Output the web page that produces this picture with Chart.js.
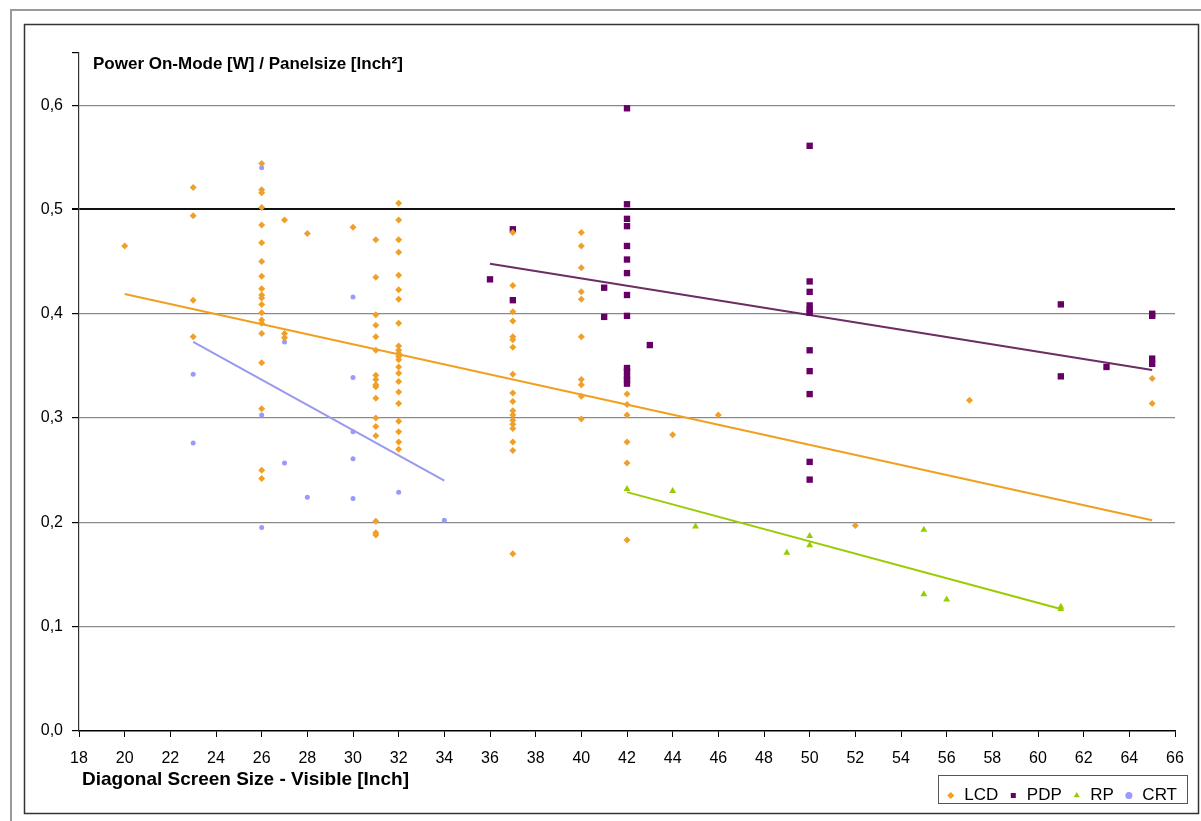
<!DOCTYPE html>
<html>
<head>
<meta charset="utf-8">
<script src="https://cdn.jsdelivr.net/npm/chart.js@4.4.1/dist/chart.umd.min.js"></script>
<style>
  html, body { margin: 0; padding: 0; background: #fff; }
</style>
</head>
<body>
<canvas id="scatter" width="1201" height="821"></canvas>
<script>
// screen sizes (inch) and the power/area values measured at each size
var lcdSizes = [20, 23, 26, 27, 28, 30, 31, 32, 37, 40, 42, 44, 46, 52, 57, 65];
var lcdValues = [
  [0.465],
  [0.521, 0.494, 0.413, 0.378],
  [0.544, 0.519, 0.516, 0.502, 0.485, 0.468, 0.450, 0.436, 0.424, 0.418, 0.415, 0.409, 0.401, 0.394, 0.391, 0.381, 0.353, 0.309, 0.250, 0.242],
  [0.490, 0.381, 0.377],
  [0.477],
  [0.483],
  [0.471, 0.435, 0.399, 0.389, 0.378, 0.365, 0.341, 0.337, 0.332, 0.330, 0.319, 0.300, 0.292, 0.283, 0.201, 0.190, 0.188],
  [0.506, 0.490, 0.471, 0.459, 0.437, 0.423, 0.414, 0.391, 0.369, 0.365, 0.362, 0.359, 0.356, 0.349, 0.343, 0.335, 0.325, 0.314, 0.297, 0.287, 0.277, 0.270],
  [0.478, 0.427, 0.402, 0.393, 0.378, 0.375, 0.368, 0.342, 0.324, 0.316, 0.307, 0.303, 0.298, 0.294, 0.290, 0.277, 0.269, 0.170],
  [0.478, 0.465, 0.444, 0.421, 0.414, 0.378, 0.337, 0.332, 0.321, 0.299],
  [0.323, 0.313, 0.303, 0.277, 0.257, 0.183],
  [0.284],
  [0.303],
  [0.197],
  [0.317],
  [0.338, 0.314]
];

var pdpSizes = [36, 37, 41, 42, 43, 50, 61, 63, 65];
var pdpValues = [
  [0.433],
  [0.481, 0.413],
  [0.425, 0.397],
  [0.597, 0.505, 0.491, 0.484, 0.465, 0.452, 0.439, 0.418, 0.398, 0.348, 0.345, 0.340, 0.337, 0.333],
  [0.370],
  [0.561, 0.431, 0.421, 0.408, 0.404, 0.401, 0.365, 0.345, 0.323, 0.258, 0.241],
  [0.409, 0.340],
  [0.349],
  [0.400, 0.398, 0.357, 0.352]
];

var rpSizes = [42, 44, 45, 49, 50, 55, 56, 61];
var rpValues = [[0.232], [0.230], [0.196], [0.171], [0.187, 0.178], [0.193, 0.131], [0.126], [0.119, 0.117]];

var crtSizes = [23, 26, 27, 28, 30, 32, 34];
var crtValues = [[0.342, 0.276], [0.540, 0.303, 0.195], [0.373, 0.257], [0.224], [0.416, 0.339, 0.287, 0.261, 0.223], [0.229], [0.202]];

// trend line end points
var lcdTrendX = [20, 65], lcdTrendY = [0.419, 0.202];
var pdpTrendX = [36, 65], pdpTrendY = [0.448, 0.346];
var rpTrendX = [42, 61], rpTrendY = [0.229, 0.117];
var crtTrendX = [23, 34], crtTrendY = [0.373, 0.240];

var seriesNames = ["LCD", "PDP", "RP", "CRT"];

function toPoints(sizes, values) {
  var pts = [];
  sizes.forEach(function (s, i) {
    values[i].forEach(function (v) { pts.push({ x: s, y: v }); });
  });
  return pts;
}
function toLine(xs, ys) {
  return xs.map(function (x, i) { return { x: x, y: ys[i] }; });
}

var FONT = "'Liberation Sans', Arial, sans-serif";
var LEGEND_SHIFT = 12; // legend box sticks out past the plot on the right

var decor = {
  id: "decor",
  afterLayout: function (chart) {
    chart.legend.left += LEGEND_SHIFT;
    chart.legend.right += LEGEND_SHIFT;
  },
  beforeDraw: function (chart) {
    var c = chart.ctx;
    c.save();
    c.fillStyle = "#fff";
    c.fillRect(0, 0, chart.width, chart.height);
    c.strokeStyle = "#999";
    c.lineWidth = 2;
    c.strokeRect(11, 10, chart.width, chart.height);
    c.strokeStyle = "#333";
    c.lineWidth = 1.5;
    c.strokeRect(24.5, 24.5, 1174, 789);
    c.restore();
  },
  afterDraw: function (chart) {
    var c = chart.ctx, a = chart.chartArea;
    c.save();
    c.fillStyle = "#000";
    c.textBaseline = "alphabetic";
    c.font = "bold 17px " + FONT;
    c.fillText("Power On-Mode [W] / Panelsize [Inch²]", a.left + 14, a.top + 16);
    c.font = "bold 19px " + FONT;
    c.fillText("Diagonal Screen Size - Visible [Inch]", a.left + 3, a.bottom + 54);
    var hb = chart.legend.legendHitBoxes;
    if (hb && hb.length) {
      var l = hb[0].left - 8;
      var r = hb[hb.length - 1].left + hb[hb.length - 1].width + 10;
      c.strokeStyle = "#555";
      c.lineWidth = 1;
      c.strokeRect(Math.round(l) + 0.5, Math.round(chart.legend.top - 2) + 0.5, Math.round(r - l), 28);
    }
    c.restore();
  }
};

var ctx = document.getElementById("scatter").getContext("2d");
var myChart = new Chart(ctx, {
  type: "scatter",
  data: {
    datasets: [
      { label: seriesNames[0], data: toPoints(lcdSizes, lcdValues), pointStyle: "rectRot", pointRadius: 3.5, backgroundColor: "#F0A028", borderColor: "#F0A028", borderWidth: 0 },
      { label: seriesNames[1], data: toPoints(pdpSizes, pdpValues), pointStyle: "rect", pointRadius: 4.5, backgroundColor: "#660066", borderColor: "#660066", borderWidth: 0 },
      { label: seriesNames[2], data: toPoints(rpSizes, rpValues), pointStyle: "triangle", pointRadius: 4, backgroundColor: "#99CC00", borderColor: "#99CC00", borderWidth: 0 },
      { label: seriesNames[3], data: toPoints(crtSizes, crtValues), pointStyle: "circle", pointRadius: 2.5, backgroundColor: "#9999FF", borderColor: "#9999FF", borderWidth: 0 },
      { label: "trend", data: toLine(lcdTrendX, lcdTrendY), showLine: true, pointRadius: 0, borderColor: "#F0A020", borderWidth: 2 },
      { label: "trend", data: toLine(pdpTrendX, pdpTrendY), showLine: true, pointRadius: 0, borderColor: "#6B2D62", borderWidth: 2 },
      { label: "trend", data: toLine(rpTrendX, rpTrendY), showLine: true, pointRadius: 0, borderColor: "#99CC00", borderWidth: 2 },
      { label: "trend", data: toLine(crtTrendX, crtTrendY), showLine: true, pointRadius: 0, borderColor: "#9999EE", borderWidth: 2 }
    ]
  },
  options: {
    responsive: false,
    animation: false,
    layout: { padding: { left: 24, top: 53, right: 26, bottom: 7 } },
    scales: {
      x: {
        type: "linear",
        min: 18,
        max: 66,
        afterFit: function (s) { s.height = 46; },
        ticks: { stepSize: 2, color: "#000", padding: 12, font: { family: FONT, size: 16 } },
        grid: { drawOnChartArea: false, tickLength: 6, tickColor: "#000" },
        border: { color: "#000", width: 1.5 }
      },
      y: {
        min: 0,
        max: 0.65,
        afterFit: function (s) { s.width = 55; },
        ticks: {
          stepSize: 0.1,
          color: "#000",
          padding: 9,
          font: { family: FONT, size: 16 },
          callback: function (v) {
            var k = Math.round(v * 100);
            if (k % 10 !== 0) return "";
            return v.toFixed(1).replace(".", ",");
          }
        },
        grid: {
          tickLength: 7,
          tickColor: "#000",
          color: function (c) {
            var k = Math.round(c.tick.value * 100);
            if (k === 0 || k % 10 !== 0) return "rgba(0,0,0,0)";
            return k === 50 ? "#111" : "#8A8A8A";
          },
          lineWidth: function (c) {
            return Math.round(c.tick.value * 100) === 50 ? 2 : 1.2;
          }
        },
        border: { color: "#333", width: 1.2 }
      }
    },
    plugins: {
      legend: {
        position: "bottom",
        align: "end",
        labels: {
          usePointStyle: true,
          boxWidth: 10,
          boxHeight: 5,
          padding: 10,
          color: "#000",
          font: { family: FONT, size: 17 },
          filter: function (item) { return item.text !== "trend"; }
        }
      },
      tooltip: { enabled: false }
    }
  },
  plugins: [decor]
});
</script>
</body>
</html>
